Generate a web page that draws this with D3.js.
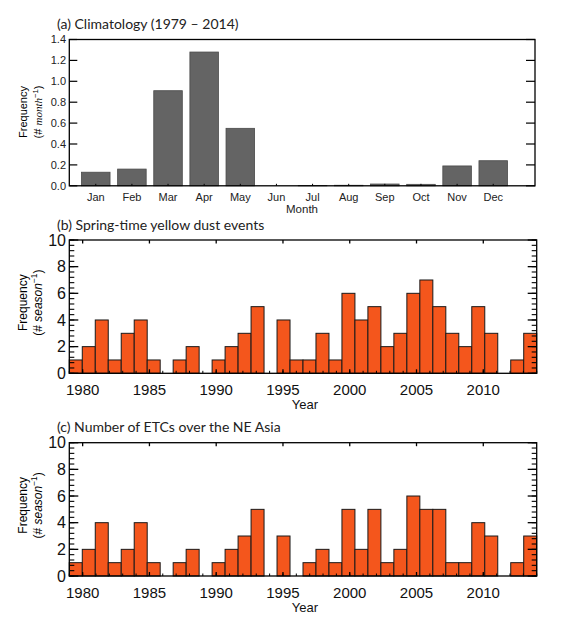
<!DOCTYPE html>
<html><head><meta charset="utf-8">
<script src="https://cdn.jsdelivr.net/npm/d3@7"></script>
<style>body{margin:0;background:#fff}svg{display:block}</style>
</head><body>
<svg id="chart" width="576" height="627"></svg>
<script>
// ---------- data ----------
const months = ["Jan","Feb","Mar","Apr","May","Jun","Jul","Aug","Sep","Oct","Nov","Dec"];
const climatology = [0.13,0.16,0.91,1.28,0.55,0.0,0.003,0.005,0.017,0.014,0.19,0.24];
const climTicks = [0,0.2,0.4,0.6,0.8,1.0,1.2,1.4];

const years = d3.range(1979, 2015);
const dustEvents = [1,2,4,1,3,4,1,0,1,2,0,1,2,3,5,0,4,1,1,3,1,6,4,5,2,3,6,7,5,3,2,5,3,0,1,3];
const etcCounts  = [1,2,4,1,2,4,1,0,1,2,0,1,2,3,5,0,3,0,1,2,1,5,2,5,1,2,6,5,5,1,1,4,3,0,1,3];
const yearTicks = [1980,1985,1990,1995,2000,2005,2010];
const seasonTicks = [0,2,4,6,8,10];

const titles = ["(a) Climatology (1979 \u2013 2014)",
                "(b) Spring-time yellow dust events",
                "(c) Number of ETCs over the NE Asia"];

// ---------- styles ----------
const svg = d3.select("#chart");
const sans = "'Liberation Sans', Arial, sans-serif";
const titleFont = "Lato, 'Open Sans', sans-serif";
const orange = "#f4561c";
const gray = "#646464";

function yLabel(g, cx, cy, unit, unitFont, fs) {
  const t = g.append("text")
    .attr("transform", `translate(${cx},${cy}) rotate(-90)`)
    .attr("text-anchor", "middle")
    .attr("font-family", sans).attr("font-size", fs);
  t.append("tspan").attr("x", 0).attr("dy", 0).text("Frequency");
  const l2 = g.append("text")
    .attr("transform", `translate(${cx + 15},${cy}) rotate(-90)`)
    .attr("text-anchor", "middle")
    .attr("font-family", sans).attr("font-size", fs);
  l2.append("tspan").text("(# ");
  l2.append("tspan").attr("font-style", "italic").attr("font-family", unitFont).text(unit);
  l2.append("tspan").attr("font-size", fs * 0.7).attr("dy", -fs * 0.4).text("\u22121");
  l2.append("tspan").attr("dy", fs * 0.4).text(")");
}

function frame(g, x0, x1, y0, y1) {
  g.append("rect").attr("x", x0).attr("y", y0).attr("width", x1 - x0).attr("height", y1 - y0)
    .attr("fill", "none").attr("stroke", "#000").attr("stroke-width", 1.3);
}

// ---------- panel (a) ----------
(function () {
  const L = 69.3, R = 535, T = 39.5, B = 185.8;
  const g = svg.append("g");
  const x = d3.scaleBand().domain(months).range([77.7, 511.3]).paddingInner(0.21).paddingOuter(0.105);
  const y = d3.scaleLinear().domain([0, 1.4]).range([B, T]);

  g.selectAll("rect.bar").data(months).join("rect").attr("class", "bar")
    .attr("x", d => x(d)).attr("width", x.bandwidth())
    .attr("y", (d, i) => y(climatology[i]))
    .attr("height", (d, i) => B - y(climatology[i]))
    .attr("fill", gray).attr("stroke", "#4a4a4a").attr("stroke-width", 0.8);

  // y ticks inside, both sides
  climTicks.forEach(v => {
    g.append("line").attr("x1", L).attr("x2", L + 8).attr("y1", y(v)).attr("y2", y(v)).attr("stroke", "#000").attr("stroke-width", 1.2);
    g.append("line").attr("x1", R).attr("x2", R - 9).attr("y1", y(v)).attr("y2", y(v)).attr("stroke", "#000").attr("stroke-width", 1.2);
    g.append("text").attr("x", 66).attr("y", y(v)).attr("dy", "0.35em").attr("text-anchor", "end")
      .attr("font-family", sans).attr("font-size", 11).attr("fill", "#222").text(d3.format(".1f")(v));
  });
  months.forEach(m => {
    const cx = x(m) + x.bandwidth() / 2;
    g.append("line").attr("x1", cx).attr("x2", cx).attr("y1", B).attr("y2", B - 2).attr("stroke", "#000");
    g.append("text").attr("x", cx).attr("y", 201).attr("text-anchor", "middle")
      .attr("font-family", sans).attr("font-size", 11).attr("fill", "#222").text(m);
  });
  g.append("text").attr("x", 302).attr("y", 213).attr("text-anchor", "middle")
    .attr("font-family", sans).attr("font-size", 11.5).attr("fill", "#222").text("Month");
  frame(g, L, R, T, B);
  g.append("text").attr("x", 57).attr("y", 29).attr("font-family", titleFont).attr("font-size", 14).attr("fill", "#222").text(titles[0]);
  yLabel(g, 27, 112, "month", "'Liberation Serif', serif", 11);
})();

// ---------- panels (b), (c) ----------
function yearPanel(values, T, B, title, titleY) {
  const L = 69.3, R = 536.7;
  const g = svg.append("g");
  const xb = d3.scaleBand().domain(years).range([L, R]).padding(0);
  const xt = d3.scaleLinear().domain([1979, 2014]).range([L, R]);
  const y = d3.scaleLinear().domain([0, 10]).range([B, T]);

  g.selectAll("rect.bar").data(years).join("rect").attr("class", "bar")
    .attr("x", d => xb(d)).attr("width", xb.bandwidth())
    .attr("y", (d, i) => y(values[i]))
    .attr("height", (d, i) => B - y(values[i]))
    .attr("fill", orange).attr("stroke", "#1a1a1a").attr("stroke-width", 1);

  // minor y ticks
  d3.range(0, 10.01, 0.4).forEach(v => {
    g.append("line").attr("x1", L).attr("x2", L + 5).attr("y1", y(v)).attr("y2", y(v)).attr("stroke", "#000").attr("stroke-width", 1.1);
    g.append("line").attr("x1", R).attr("x2", R - 5).attr("y1", y(v)).attr("y2", y(v)).attr("stroke", "#000").attr("stroke-width", 1.1);
  });
  seasonTicks.forEach(v => {
    g.append("line").attr("x1", L).attr("x2", L + 9).attr("y1", y(v)).attr("y2", y(v)).attr("stroke", "#000").attr("stroke-width", 1.3);
    g.append("line").attr("x1", R).attr("x2", R - 9).attr("y1", y(v)).attr("y2", y(v)).attr("stroke", "#000").attr("stroke-width", 1.3);
    g.append("text").attr("x", 66).attr("y", y(v)).attr("dy", "0.36em").attr("text-anchor", "end")
      .attr("font-family", sans).attr("font-size", 16).attr("fill", "#111").text(v);
  });
  // x ticks
  years.forEach(yr => {
    g.append("line").attr("x1", xt(yr)).attr("x2", xt(yr)).attr("y1", B).attr("y2", B - 2.5).attr("stroke", "#000");
  });
  yearTicks.forEach(yr => {
    g.append("line").attr("x1", xt(yr)).attr("x2", xt(yr)).attr("y1", T).attr("y2", T + 3.5).attr("stroke", "#000").attr("stroke-width", 1.3);
    g.append("line").attr("x1", xt(yr)).attr("x2", xt(yr)).attr("y1", B).attr("y2", B - 4).attr("stroke", "#000").attr("stroke-width", 1.3);
    g.append("text").attr("x", xt(yr)).attr("y", B + 22).attr("text-anchor", "middle")
      .attr("font-family", sans).attr("font-size", 15).attr("fill", "#111").text(yr);
  });
  g.append("text").attr("x", 305).attr("y", B + 36).attr("text-anchor", "middle")
    .attr("font-family", sans).attr("font-size", 13).attr("fill", "#111").text("Year");
  frame(g, L, R, T, B);
  g.append("text").attr("x", 57).attr("y", titleY).attr("font-family", titleFont).attr("font-size", 14).attr("fill", "#222").text(title);
  yLabel(g, 27, (T + B) / 2 - 4, "season", sans, 12);
}

yearPanel(dustEvents, 240, 373.3, titles[1], 230);
yearPanel(etcCounts, 442.7, 576, titles[2], 432);
</script>
</body></html>
